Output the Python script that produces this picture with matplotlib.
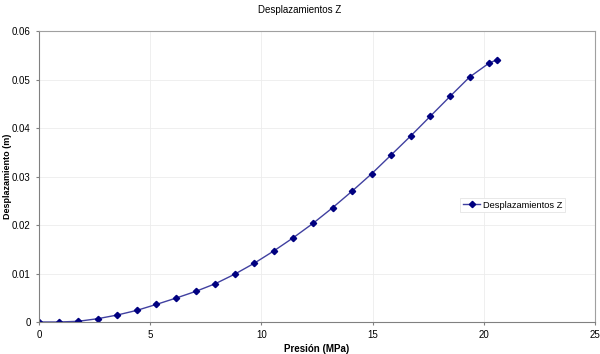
import matplotlib
matplotlib.use("Agg")
import matplotlib.pyplot as plt

plt.rcParams['font.family'] = ['Liberation Sans', 'DejaVu Sans']

# presion (MPa) vs desplazamiento Z (m)
presion = [0.0, 0.88, 1.76, 2.64, 3.52, 4.4, 5.28, 6.16, 7.04, 7.92, 8.8, 9.68,
           10.56, 11.44, 12.32, 13.2, 14.08, 14.96, 15.84, 16.72, 17.6, 18.48,
           19.36, 20.24, 20.6]
despl = [0.0, 0.0, 0.00014, 0.00068, 0.00144, 0.0024, 0.00363, 0.00493, 0.0063,
         0.00788, 0.00986, 0.01212, 0.01466, 0.0174, 0.02034, 0.02356, 0.02699,
         0.03058, 0.03447, 0.03839, 0.04245, 0.04651, 0.0505, 0.05339, 0.05408]

fig = plt.figure(figsize=(6.0, 3.54), dpi=100)
ax = fig.add_axes([0.065, 0.0904, 0.9267, 0.822])

ax.plot(presion, despl, color='#4040a0', lw=1.0, marker='D', ms=3.2,
        mfc='#000080', mec='#000080', label='Desplazamientos Z')

ax.set_xlim(0, 25)
ax.set_ylim(0, 0.06)
ax.set_xticks([0, 5, 10, 15, 20, 25])
ax.set_yticks([0, 0.01, 0.02, 0.03, 0.04, 0.05, 0.06])
ax.set_yticklabels(['0', '0.01', '0.02', '0.03', '0.04', '0.05', '0.06'])
ax.grid(True, color='#ececec', lw=0.6)
ax.set_axisbelow(True)
ax.tick_params(labelsize=7, length=2, color='#808080', pad=4)
for s in ax.spines.values():
    s.set_color('#a0a0a0')
ax.spines['left'].set_color('#808080')
ax.spines['bottom'].set_color('#808080')

ax.set_xlabel('Presión (MPa)', fontsize=7, fontweight='bold')
ax.xaxis.set_label_coords(0.5, -0.075)
ax.set_ylabel('Desplazamiento (m)', fontsize=6.5, fontweight='bold')
ax.yaxis.set_label_coords(-0.049, 0.5)

fig.text(0.5, 0.972, 'Desplazamientos Z', ha='center', va='center', fontsize=7)

leg = ax.legend(loc='center left', bbox_to_anchor=(0.757, 0.402), fontsize=6.7,
                fancybox=False, framealpha=1, edgecolor='#e4e4e4',
                handlelength=1.9, handletextpad=0.3, borderpad=0.3,
                borderaxespad=0)
leg.get_frame().set_linewidth(0.6)

fig.savefig('out.png', dpi=100)
